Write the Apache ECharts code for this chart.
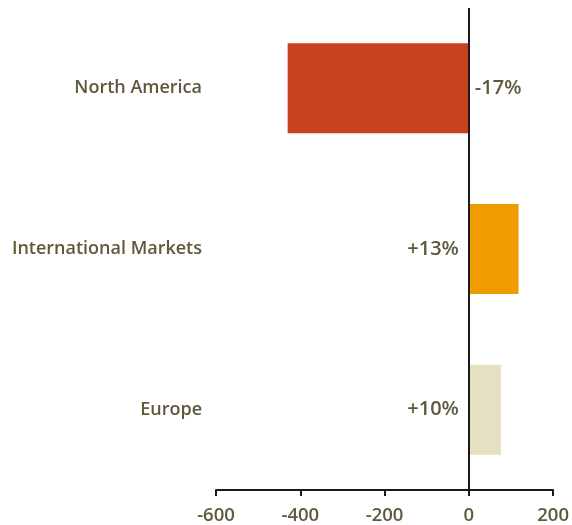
<!DOCTYPE html>
<html>
<head>
<meta charset="utf-8">
<script src="https://cdn.jsdelivr.net/npm/echarts@6/dist/echarts.min.js"></script>
<style>
  html, body { margin: 0; padding: 0; background: #fff; }
  #chart { width: 572px; height: 525px; }
</style>
</head>
<body>
<div id="chart"></div>
<script>
const categories = ['North America', 'International Markets', 'Europe']
const values = [-430, 118, 76]
const changeLabels = ['-17%', '+13%', '+10%']
const barColors = ['#C9421F', '#EE9C00', '#E5E0C1']

const textColor = '#5F583D'
const font = '"Open Sans", "Noto Sans", sans-serif'

const chart = echarts.init(document.getElementById('chart'))

chart.setOption({
  animation: false,
  backgroundColor: '#fff',
  grid: { left: 216, right: 17, top: 8, bottom: 31, containLabel: false },
  xAxis: {
    type: 'value',
    min: -600,
    max: 200,
    interval: 200,
    axisLine: { show: true, lineStyle: { color: '#1a1a1a', width: 2 } },
    axisTick: { show: true, length: 6, lineStyle: { color: '#1a1a1a', width: 2 } },
    axisLabel: { color: textColor, fontSize: 18.5, fontFamily: font, fontWeight: 600, margin: 16 },
    splitLine: { show: false }
  },
  yAxis: {
    type: 'category',
    inverse: true,
    data: categories,
    axisLine: { show: false, onZero: false },
    axisTick: { show: false },
    axisLabel: { color: textColor, fontSize: 18, fontFamily: font, fontWeight: 600, margin: 14 }
  },
  series: [
    {
      type: 'bar',
      barCategoryGap: '44%',
      data: values.map((v, i) => ({ value: v, itemStyle: { color: barColors[i] } })),
      markLine: {
        silent: true,
        symbol: 'none',
        label: { show: false },
        lineStyle: { color: '#1a1a1a', width: 2, type: 'solid' },
        data: [{ xAxis: 0 }]
      }
    },
    {
      type: 'scatter',
      symbolSize: 0,
      silent: true,
      itemStyle: { opacity: 1 },
      data: categories.map((c, i) => ({
        value: [0, c],
        label: {
          show: true,
          position: values[i] < 0 ? 'right' : 'left',
          distance: values[i] < 0 ? 6 : 10,
          formatter: changeLabels[i],
          color: textColor,
          fontSize: 20,
          fontFamily: font,
          fontWeight: 600
        }
      }))
    }
  ]
})
</script>
</body>
</html>
